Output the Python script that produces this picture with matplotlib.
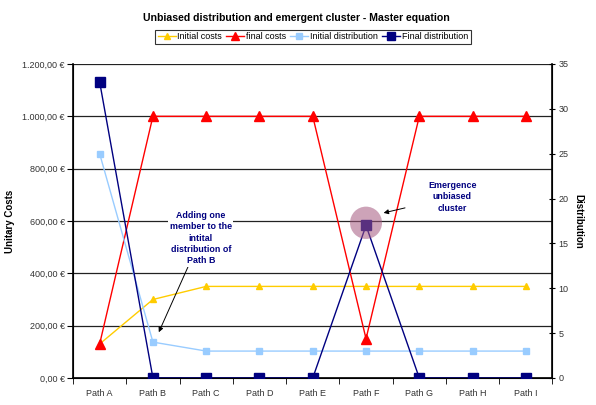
import matplotlib
matplotlib.use('Agg')
import matplotlib.pyplot as plt
from matplotlib.patches import Ellipse
from matplotlib.ticker import FuncFormatter, FixedLocator

plt.rcParams['font.family'] = ['Liberation Sans', 'DejaVu Sans']

paths = ['Path A', 'Path B', 'Path C', 'Path D', 'Path E',
         'Path F', 'Path G', 'Path H', 'Path I']
initial_costs = [130, 300, 350, 350, 350, 350, 350, 350, 350]
final_costs = [130, 1000, 1000, 1000, 1000, 150, 1000, 1000, 1000]
initial_dist = [25, 4, 3, 3, 3, 3, 3, 3, 3]
final_dist = [33, 0, 0, 0, 0, 17, 0, 0, 0]
cluster_path = 5


def euro(v, pos):
    s = f"{v:,.2f}".replace(',', 'X').replace('.', ',').replace('X', '.')
    return s + ' €'


fig = plt.figure(figsize=(5.96, 4.05), dpi=100)
ax = fig.add_axes([0.1225, 0.0667, 0.8045, 0.7753])
ax2 = ax.twinx()

x = list(range(len(paths)))

# cost series on the left axis
l1, = ax.plot(x, initial_costs, '-^', color='#ffcc00', lw=1, ms=5, label='Initial costs', zorder=3)
l2, = ax.plot(x, final_costs, '-^', color='#ff0000', lw=1, ms=7, label='final costs', zorder=3)

# distribution series on the right axis
l3, = ax2.plot(x, initial_dist, '-s', color='#99ccff', lw=1, ms=5, label='Initial distribution', zorder=3)
l4, = ax2.plot(x, final_dist, '-s', color='#000080', lw=1, ms=7, label='Final distribution', zorder=3)

ax.set_xlim(-0.5, len(paths) - 0.5)
ax.set_ylim(0, 1200)
ax2.set_ylim(0, 35)
ax.set_yticks(range(0, 1201, 200))
ax.yaxis.set_major_formatter(FuncFormatter(euro))
ax2.set_yticks(range(0, 36, 5))

ax.set_xticks(x)
ax.set_xticklabels(paths)
ax.xaxis.set_minor_locator(FixedLocator([i + 0.5 for i in range(-1, len(paths))]))
ax.tick_params(axis='x', which='major', length=0, labelsize=6.5, pad=8, colors='#333333')
ax.tick_params(axis='x', which='minor', length=4, direction='out')
ax.tick_params(axis='y', length=4, direction='out', labelsize=6.5, labelcolor='#333333', pad=2)
ax2.tick_params(axis='y', length=5, direction='inout', labelsize=6.5, labelcolor='#333333', pad=2)

ax.grid(True, axis='y', color='#222222', lw=0.9)
ax.set_axisbelow(True)
for a in (ax, ax2):
    a.spines['top'].set_visible(False)
ax.spines['left'].set_linewidth(1.2)
ax2.spines['right'].set_linewidth(1.2)
ax.spines['bottom'].set_linewidth(1.2)

ax.set_ylabel('Unitary Costs', fontsize=7, fontweight='bold')
ax.yaxis.set_label_coords(-0.121, 0.5)
ax2.set_ylabel('Distribution', fontsize=7, fontweight='bold', rotation=-90)
ax2.yaxis.set_label_coords(1.065, 0.5)

# highlight the emergent cluster
circ = Ellipse((cluster_path, final_dist[cluster_path] + 0.3), width=0.6, height=3.6,
               facecolor='#a4587f', alpha=0.55, edgecolor='none', zorder=4)
ax2.add_patch(circ)

ax2.annotate('Adding one\nmember to the\nintital\ndistribution of\nPath B',
             xy=(1.11, 5.1), xytext=(1.9, 15.6), ha='center', va='center',
             fontsize=6.4, fontweight='bold', color='#000080', linespacing=1.35,
             bbox=dict(facecolor='white', edgecolor='none', pad=1),
             arrowprops=dict(arrowstyle='-|>', color='black', lw=0.7,
                             mutation_scale=7, shrinkA=0, shrinkB=0), zorder=5)
ax2.annotate('Emergence\nunbiased\ncluster',
             xy=(5.33, 18.4), xytext=(6.62, 20.2), ha='center', va='center',
             fontsize=6.4, fontweight='bold', color='#000080', linespacing=1.35,
             arrowprops=dict(arrowstyle='-|>', color='black', lw=0.7,
                             mutation_scale=7, shrinkA=15, shrinkB=0), zorder=5)

fig.suptitle('Unbiased distribution and emergent cluster - Master equation',
             fontsize=7.6, fontweight='bold', y=0.968, x=0.4975)
leg = fig.legend(handles=[l1, l2, l3, l4], loc='center', bbox_to_anchor=(0.525, 0.909),
                 ncol=4, fontsize=6.5, frameon=True, fancybox=False, handlelength=2.0,
                 handletextpad=0.2, columnspacing=0.45, borderpad=0.3, markerscale=0.75)
leg.get_frame().set_edgecolor('black')
leg.get_frame().set_linewidth(0.8)

fig.savefig('out.png', dpi=100)
